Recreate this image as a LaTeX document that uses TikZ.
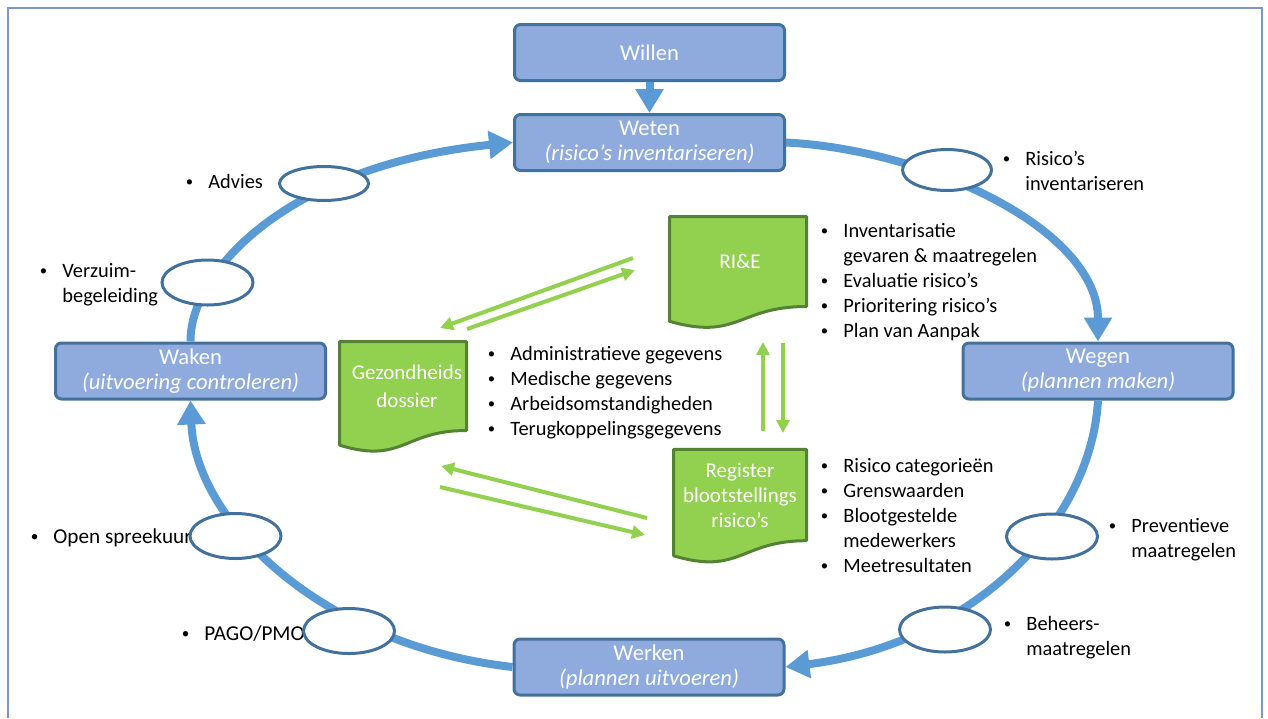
\documentclass[tikz,border=0pt]{standalone}
\usepackage{fontspec}
\usepackage{graphicx}
\setmainfont{Carlito}
\usetikzlibrary{arrows.meta,shapes.geometric,calc}

\definecolor{boxfill}{HTML}{8FAADC}
\definecolor{boxline}{HTML}{41719C}
\definecolor{cycleblue}{HTML}{5B9BD5}
\definecolor{docfill}{HTML}{92D050}
\definecolor{docline}{HTML}{548235}
\definecolor{framecol}{HTML}{7A98C4}

\newcommand{\bu}{\makebox[12pt][l]{\hspace{0.7pt}\raisebox{0.9pt}{\scalebox{0.72}{\textbullet}}}}
\newcommand{\bullist}[1]{\begin{tabular}[t]{@{}l@{}l@{}}#1\end{tabular}}

% document shape with a wavy bottom, around an empty node
\newcommand{\docshape}[1]{%
  \filldraw[draw=docline,fill=docfill,line width=1.5pt,line join=round]
    let \p1=(#1.south west), \p2=(#1.north east), \n1={\y2-\y1} in
    (\x1,\y2) -- (\x2,\y2) -- (\x2,\y1)
    .. controls ({0.5*(\x1+\x2)},\y1) and ({0.5*(\x1+\x2)},{\y1-0.3815*\n1}) .. (\x1,{\y1-0.1646*\n1}) -- cycle;}

\tikzset{
  stage/.style={draw=boxline,fill=boxfill,line width=1.5pt,rounded corners=3pt,
    minimum width=135pt,minimum height=28pt,inner sep=0pt,text=white,align=center,
    font=\fontsize{11.3}{12.5}\selectfont},
  cyclearrow/.style={draw=cycleblue,line width=4pt,-{Triangle[width=13.5pt,length=12pt]}},
  ring/.style={ellipse,draw=boxline,fill=white,line width=1.5pt,
    minimum width=45.5pt,minimum height=22.5pt,inner sep=0pt},
  docframe/.style={inner sep=0pt,outer sep=0pt},
  doctext/.style={text=white,align=center,font=\fontsize{10.5}{12.5}\selectfont},
  flow/.style={draw=docfill,line width=2pt,-{Triangle[width=6.5pt,length=6.5pt]}},
  note/.style={anchor=base west,inner sep=0pt},
}

\begin{document}
\begin{tikzpicture}[x=0.5pt,y=-0.5pt,font=\fontsize{10.2}{12.5}\selectfont]
\useasboundingbox (0,0) rectangle (1268,718);
\draw[framecol,line width=1pt] (8,718) -- (8,8) -- (1262,8) -- (1262,718);

% the five stages
\node[stage] (willen) at (649.5,52.5) {Willen};
\node[stage] (weten) at (649.5,142.5) {Weten\\\textit{(risico's inventariseren)}};
\node[stage] (wegen) at (1098,371) {Wegen\\\textit{(plannen maken)}};
\node[stage] (werken) at (649,667) {Werken\\\textit{(plannen uitvoeren)}};
\node[stage] (waken) at (190.5,371) {Waken\\\textit{(uitvoering controleren)}};

\draw[cyclearrow] (willen) -- (weten);
\draw[cyclearrow] (waken.north) .. controls (190,270) and (290,165) .. (weten.west);
\draw[cyclearrow] (weten.east) .. controls (930,150) and (1098,230) .. (wegen.north);
\draw[cyclearrow] (wegen.south) .. controls (1090,530) and (965,645) .. (werken.east);
\draw[cyclearrow] (werken.west) .. controls (320,645) and (195,520) .. (waken.south);

% labels on the cycle
\node[note] (advieslbl) at (184,188) {\bullist{\bu & Advies}};
\node[note] (verzuimlbl) at (38,277) {\bullist{\bu & Verzuim-\\ & begeleiding}};
\node[note] (risinvlbl) at (1001,165) {\bullist{\bu & Risico's\\ & inventariseren}};
\node[note] (preventlbl) at (1107,532) {\bullist{\bu & Preventieve\\ & maatregelen}};
\node[note] (beheerlbl) at (1002,630) {\bullist{\bu & Beheers-\\ & maatregelen}};
\node[note,font=\fontsize{10.6}{12.5}\selectfont] (spreeklbl) at (29,543) {\bullist{\bu & Open spreekuur}};
\node[note,font=\fontsize{10.6}{12.5}\selectfont] (pagolbl) at (180,640) {\bullist{\bu & PAGO/PMO}};

\node[ring,minimum width=44.5pt,minimum height=17pt] (advies) at (324,183.5) {};
\node[ring] (verzuim) at (207.5,282.5) {};
\node[ring,minimum width=44.5pt,minimum height=20.5pt] (risinv) at (947,170) {};
\node[ring] (prevent) at (1052,536.5) {};
\node[ring] (beheer) at (945,629.5) {};
\node[ring] (spreek) at (235.5,536) {};
\node[ring] (pago) at (349,631) {};

% documents
\node[docframe,minimum width=68.5pt,minimum height=45pt] (rie) at (738,261.5) {};
\docshape{rie}
\node[doctext,xshift=1pt] (rietxt) at (rie) {RI\&E};
\node[docframe,minimum width=63.5pt,minimum height=44.5pt] (gez) at (403,386) {};
\docshape{gez}
\node[doctext,xshift=2pt,font=\fontsize{10.5}{14}\selectfont] (geztxt) at (gez) {Gezondheids\\dossier};
\node[docframe,minimum width=66.5pt,minimum height=45.7pt] (reg) at (740,495) {};
\docshape{reg}
\node[doctext] (regtxt) at (reg) {Register\\blootstellings\\risico's};

\node[note] (rielist) at (819,237) {\bullist{\bu & Inventarisatie\\ & gevaren \& maatregelen\\
  \bu & Evaluatie risico's\\ \bu & Prioritering risico's\\ \bu & Plan van Aanpak}};
\node[note] (gezlist) at (486,360) {\bullist{\bu & Administratieve gegevens\\
  \bu & Medische gegevens\\ \bu & Arbeidsomstandigheden\\ \bu & Terugkoppelingsgegevens}};
\node[note] (reglist) at (819,472) {\bullist{\bu & Risico categorieën\\ \bu & Grenswaarden\\
  \bu & Blootgestelde\\ & medewerkers\\ \bu & Meetresultaten}};

% exchanges between the documents
\coordinate (rieout) at (633,258);
\coordinate (gezin) at (440,328);
\coordinate (gezout) at (467,329);
\coordinate (riein) at (635,270);
\coordinate (regup) at (763,431);
\coordinate (riebot) at (763,342);
\coordinate (riedown) at (783,343);
\coordinate (regtop) at (783,433);
\coordinate (regout) at (647,518);
\coordinate (gezlow) at (441,466);
\coordinate (gezstart) at (440,487);
\coordinate (regin) at (645,535);
\draw[flow] (rieout) -- (gezin);
\draw[flow] (gezout) -- (riein);
\draw[flow] (regup) -- (riebot);
\draw[flow] (riedown) -- (regtop);
\draw[flow] (regout) -- (gezlow);
\draw[flow] (gezstart) -- (regin);
\end{tikzpicture}
\end{document}
